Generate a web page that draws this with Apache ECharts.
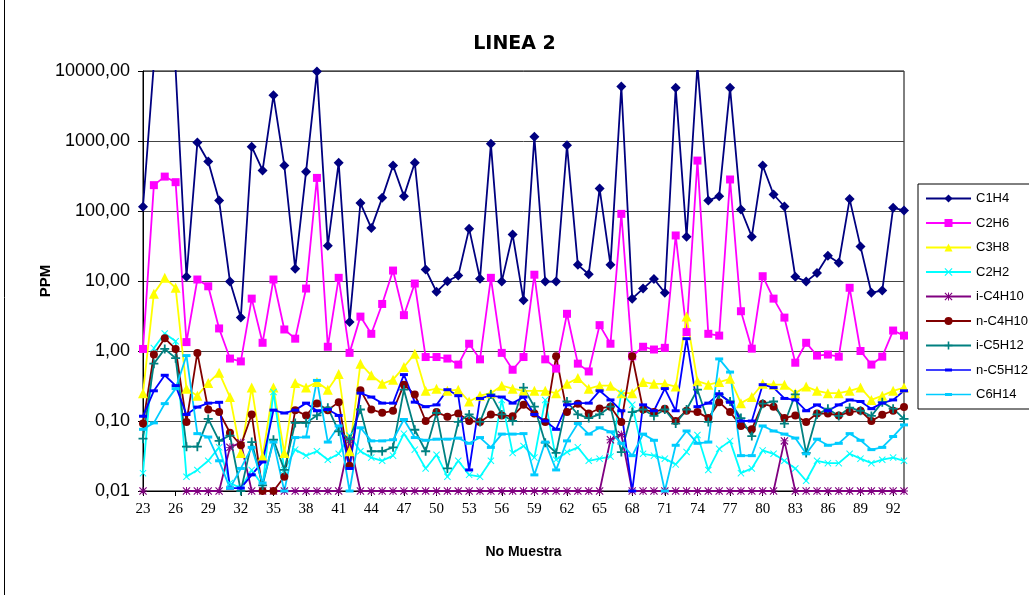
<!DOCTYPE html>
<html>
<head>
<meta charset="utf-8">
<title>LINEA 2</title>
<script src="https://cdn.jsdelivr.net/npm/echarts@6/dist/echarts.min.js"></script>
<style>
html,body{margin:0;padding:0;background:#fff;}
#main{width:1029px;height:595px;}
</style>
</head>
<body>
<div id="main"></div>
<script>
// muestras 23..93
const muestras = []
for (let n = 23; n <= 93; n++) muestras.push(String(n))

const c1h4 = [115,12600,20000,10500,11.5,950,510,141,9.8,3.0,830,380,4500,445,15,365,9800,32,490,2.6,
  130,57,154,447,163,490,14.6,7.0,9.9,12,56,10.8,910,9.8,46,5.3,1150,9.8,9.8,870,
  17,12.5,209,17,6000,5.6,7.8,10.7,6.8,5750,43,12000,141,163,5750,105,43,447,172,116,
  11.5,9.8,13,23,18.2,148,31,6.8,7.3,111,102]
const c2h6 = [1.07,234,310,258,1.34,10.5,8.4,2.1,0.78,0.71,5.6,1.31,10.5,2.03,1.5,7.8,297,1.15,11.1,0.94,
  3.1,1.76,4.7,14.1,3.25,9.2,0.82,0.82,0.78,0.64,1.27,0.76,11.1,0.94,0.54,0.82,12.3,0.76,0.56,3.4,
  0.66,0.51,2.34,1.27,91,0.84,1.15,1.05,1.11,44.7,1.86,525,1.76,1.66,282,3.7,1.08,11.7,5.6,3.0,
  0.68,1.31,0.86,0.89,0.83,8.0,1.0,0.64,0.83,1.96,1.66]
const c3h8 = [0.25,6.6,11.1,8.0,0.29,0.23,0.35,0.49,0.22,0.035,0.30,0.031,0.30,0.035,0.35,0.30,0.36,0.28,0.47,0.037,
  0.66,0.45,0.34,0.39,0.59,0.91,0.27,0.29,0.27,0.28,0.19,0.23,0.25,0.32,0.29,0.27,0.27,0.27,0.25,0.34,
  0.41,0.29,0.32,0.32,0.25,0.25,0.36,0.34,0.34,0.31,3.1,0.37,0.33,0.36,0.40,0.18,0.22,0.34,0.33,0.33,
  0.25,0.31,0.27,0.25,0.25,0.27,0.30,0.20,0.23,0.27,0.30]
const c2h2 = [0.018,1.1,1.78,1.38,0.016,0.020,0.027,0.042,0.013,0.011,0.020,0.012,0.26,0.020,0.039,0.032,0.037,0.028,0.034,0.062,
  0.037,0.030,0.027,0.032,0.066,0.039,0.021,0.033,0.016,0.027,0.017,0.016,0.027,0.20,0.035,0.044,0.030,0.20,0.028,0.036,
  0.042,0.027,0.029,0.031,0.25,0.17,0.034,0.032,0.029,0.024,0.036,0.063,0.020,0.040,0.052,0.018,0.021,0.038,0.034,0.027,
  0.021,0.014,0.027,0.025,0.025,0.034,0.029,0.025,0.028,0.030,0.027]
const ic4h10 = [0.01,null,null,null,0.01,0.01,0.01,0.01,0.042,0.049,0.01,0.01,0.01,0.01,0.01,0.01,0.01,0.01,0.01,0.053,
  0.01,0.01,0.01,0.01,0.01,0.01,0.01,0.01,0.01,0.01,0.01,0.01,0.01,0.01,0.01,0.01,0.01,0.01,0.01,0.01,
  0.01,0.01,0.01,0.054,0.064,0.01,0.01,0.01,0.01,0.01,0.01,0.01,0.01,0.01,0.01,0.01,0.01,0.01,0.01,0.052,
  0.01,0.01,0.01,0.01,0.01,0.01,0.01,0.01,0.01,0.01,0.01]
const nc4h10 = [0.092,0.89,1.52,1.07,0.097,0.94,0.146,0.134,0.068,0.045,0.124,0.01,0.01,0.016,0.143,0.12,0.178,0.143,0.186,0.023,
  0.276,0.146,0.131,0.14,0.33,0.24,0.10,0.134,0.115,0.128,0.10,0.097,0.124,0.12,0.117,0.17,0.128,0.097,0.84,0.134,
  0.176,0.128,0.151,0.16,0.097,0.84,0.146,0.134,0.15,0.10,0.14,0.134,0.11,0.186,0.134,0.085,0.076,0.176,0.16,0.11,
  0.12,0.097,0.128,0.128,0.12,0.134,0.14,0.10,0.123,0.14,0.158]
const ic5h12 = [0.056,0.66,1.07,0.79,0.043,0.043,0.107,0.052,0.062,0.01,0.05,0.012,0.054,0.020,0.094,0.094,0.12,0.155,0.071,0.055,
  0.146,0.037,0.037,0.042,0.28,0.075,0.037,0.13,0.021,0.097,0.124,0.097,0.24,0.124,0.10,0.30,0.16,0.049,0.035,0.19,
  0.124,0.11,0.124,0.16,0.036,0.134,0.146,0.118,0.146,0.092,0.146,0.28,0.097,0.24,0.19,0.11,0.061,0.177,0.19,0.092,
  0.24,0.035,0.124,0.15,0.118,0.155,0.14,0.118,0.186,0.15,0.107]
const nc5h12 = [0.117,0.27,0.45,0.32,0.124,0.158,0.18,0.185,0.011,0.011,0.017,0.026,0.143,0.13,0.143,0.18,0.14,0.146,0.12,0.021,
  0.25,0.22,0.18,0.18,0.46,0.186,0.16,0.17,0.28,0.23,0.020,0.21,0.23,0.22,0.18,0.22,0.124,0.10,0.076,0.17,
  0.18,0.18,0.27,0.20,0.14,0.01,0.17,0.14,0.29,0.14,1.5,0.16,0.18,0.245,0.185,0.10,0.10,0.33,0.30,0.21,
  0.20,0.14,0.17,0.14,0.17,0.20,0.19,0.15,0.18,0.20,0.27]
const c6h14 = [0.076,0.094,0.177,0.29,0.86,0.066,0.059,0.027,0.011,0.021,0.042,0.013,0.050,0.01,0.058,0.059,0.38,0.05,0.085,0.01,
  0.08,0.052,0.052,0.054,0.105,0.058,0.053,0.055,0.055,0.057,0.048,0.058,0.042,0.065,0.065,0.066,0.017,0.05,0.020,0.052,
  0.092,0.065,0.08,0.07,0.048,0.032,0.065,0.053,0.01,0.045,0.072,0.048,0.05,0.77,0.50,0.032,0.032,0.085,0.072,0.065,
  0.057,0.034,0.055,0.045,0.048,0.066,0.053,0.039,0.042,0.06,0.088]

const xPath = 'path://M0,1L1,0L5,4L9,0L10,1L6,5L10,9L9,10L5,6L1,10L0,9L4,5Z'
const plusPath = 'path://M4,0L6,0L6,4L10,4L10,6L6,6L6,10L4,10L4,6L0,6L0,4L4,4Z'
const starPath = 'path://M0,1L1,0L5,4L9,0L10,1L6,5L10,9L9,10L5,6L1,10L0,9L4,5Z M4.4,0L5.6,0L5.6,10L4.4,10Z M0,4.4L10,4.4L10,5.6L0,5.6Z'
// icono de leyenda: linea con guion corto
const dashIcon = 'path://M0,0L0,0Z M0,4.2L45,4.2L45,5.8L0,5.8Z M19,3.5L26,3.5L26,6.5L19,6.5Z M45,10L45,10Z'

function serie(name, data, color, symbol, size){
    return {
        name: name,
        type: 'line',
        data: data,
        color: color,
        symbol: symbol,
        symbolSize: size,
        showAllSymbol: true,
        connectNulls: false,
        lineStyle: { width: 1.8, color: color },
        itemStyle: { color: color, borderWidth: 0 },
        emphasis: { disabled: true },
        animation: false
    }
}

const chartInstance = echarts.init(document.getElementById('main'))
const option = {
    backgroundColor: '#fff',
    animation: false,
    title: {
        text: 'LINEA 2',
        left: 'center',
        top: 30,
        textStyle: { fontFamily: 'DejaVu Sans', fontWeight: 'bold', fontSize: 19, color: '#000' }
    },
    grid: {
        left: 143, right: 125, top: 71, bottom: 104,
        show: true, borderColor: '#000', borderWidth: 1, backgroundColor: 'transparent'
    },
    legend: {
        orient: 'vertical',
        left: 918, top: 184,
        padding: [8, 30, 8, 7],
        itemGap: 11.5,
        itemWidth: 45, itemHeight: 10,
        borderColor: '#000', borderWidth: 1,
        textStyle: { fontFamily: 'Liberation Sans', fontSize: 13, color: '#000' },
        data: ['C1H4','C2H6','C3H8','C2H2','i-C4H10','n-C4H10','i-C5H12',
            { name: 'n-C5H12', icon: dashIcon },
            { name: 'C6H14', icon: dashIcon }]
    },
    xAxis: {
        type: 'category',
        data: muestras,
        boundaryGap: false,
        name: 'No Muestra',
        nameLocation: 'middle',
        nameGap: 54,
        nameTextStyle: { fontFamily: 'Liberation Sans', fontWeight: 'bold', fontSize: 14, color: '#000' },
        axisLine: { lineStyle: { color: '#000', width: 1 } },
        axisTick: { interval: 2, length: 5, lineStyle: { color: '#000' } },
        axisLabel: { interval: 2, margin: 11, fontFamily: 'Liberation Serif', fontSize: 15, color: '#000' },
        splitLine: { show: false }
    },
    yAxis: {
        type: 'log',
        logBase: 10,
        min: 0.01,
        max: 10000,
        splitNumber: 6,
        name: 'PPM',
        nameLocation: 'middle',
        nameRotate: 90,
        nameGap: 90,
        nameMoveOverlap: false,
        nameTextStyle: { fontFamily: 'Liberation Sans', fontWeight: 'bold', fontSize: 15, color: '#000' },
        axisLine: { show: true, lineStyle: { color: '#000', width: 1 } },
        axisTick: { show: true, length: 5, lineStyle: { color: '#000' } },
        axisLabel: {
            margin: 13,
            fontFamily: 'Liberation Sans', fontSize: 18, color: '#000',
            formatter: (v) => Number(v).toFixed(2).replace('.', ',')
        },
        splitLine: { show: true, lineStyle: { color: '#444', width: 1 } },
        minorTick: { show: false }
    },
    graphic: [
        { type: 'line', shape: { x1: 4.5, y1: 0, x2: 4.5, y2: 595 }, style: { stroke: '#000', lineWidth: 1 } }
    ],
    series: [
        serie('C1H4', c1h4, '#000080', 'diamond', 10),
        serie('C2H6', c2h6, '#FF00FF', 'rect', 8),
        serie('C3H8', c3h8, '#FFFF00', 'triangle', 10),
        serie('C2H2', c2h2, '#00FFFF', xPath, 7),
        serie('i-C4H10', ic4h10, '#800080', starPath, 8),
        serie('n-C4H10', nc4h10, '#800000', 'circle', 8),
        serie('i-C5H12', ic5h12, '#008080', plusPath, 9),
        serie('n-C5H12', nc5h12, '#0000FF', 'rect', [8, 3]),
        serie('C6H14', c6h14, '#00CCFF', 'rect', [8, 3])
    ]
}
chartInstance.setOption(option)
</script>
</body>
</html>
